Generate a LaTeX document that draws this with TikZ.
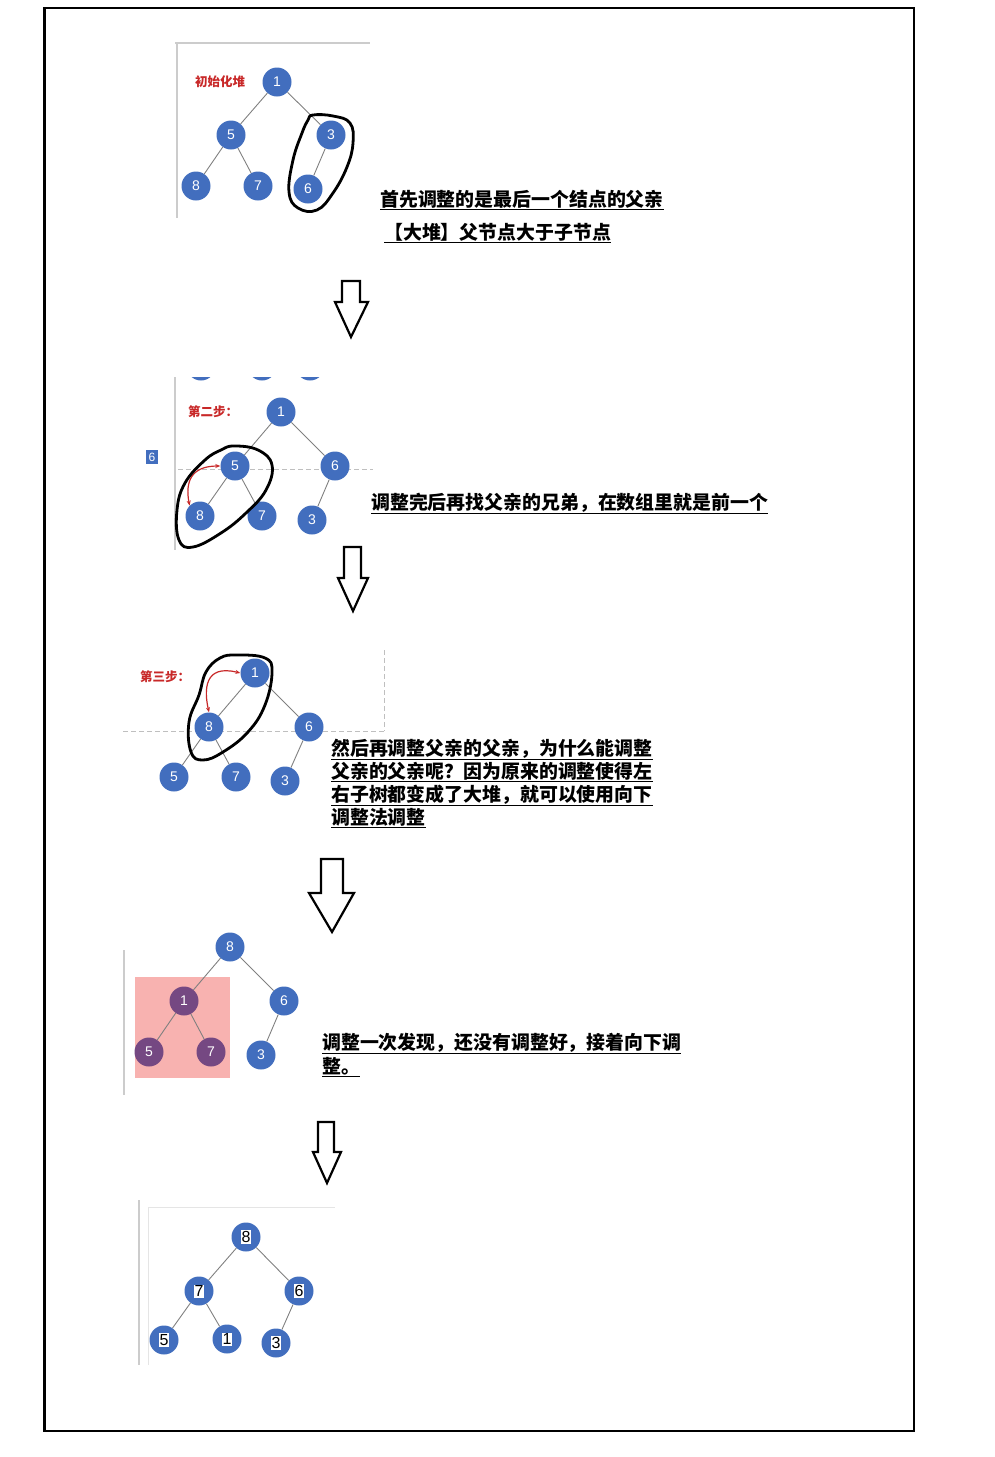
\documentclass[tikz,border=0pt]{standalone}
\usepackage{fontspec}
\setmainfont{Liberation Sans}
\newfontfamily\cjk{Noto Sans CJK SC}
\usetikzlibrary{arrows.meta}
\definecolor{heapblue}{RGB}{66,110,190}
\definecolor{heappurple}{RGB}{117,72,130}
\definecolor{shotpink}{RGB}{248,178,176}
\definecolor{markred}{RGB}{200,40,40}
\tikzset{
  heapnode/.style={circle,fill=heapblue,minimum size=29,inner sep=0,text=white,font=\fontsize{14}{14}\selectfont},
  swapnode/.style={heapnode,fill=heappurple},
  heapedge/.style={draw=gray,line width=0.9},
  note/.style={anchor=base west,inner sep=0,font=\cjk\bfseries\fontsize{18.9}{23}\selectfont},
  steplabel/.style={text=markred,inner sep=0,font=\cjk\bfseries\fontsize{12.5}{13}\selectfont},
  ring/.style={line width=2.8,line cap=round,line join=round},
  swaparrow/.style={draw=markred,line width=1.2,{Stealth[length=5,width=4]}-{Stealth[length=5,width=4]}},
  shotedge/.style={draw=gray!40,line width=1.2},
  shotdash/.style={draw=gray!50,dash pattern=on 5pt off 3pt,line width=1},
  hollowarrow/.style={draw,line width=2.2,fill=white,line join=miter},
  numbox/.style={fill=white,inner sep=1,text=black,font=\fontsize{16}{16}\selectfont}
}

\begin{document}
\begin{tikzpicture}[x=1pt,y=-1pt]
\useasboundingbox (0,0) rectangle (994,1457);
\draw[line width=2.8] (44.5,8) rectangle (914,1431);

\draw[shotedge] (175,43) -- (370,43);
\draw[shotedge] (177,43) -- (177,218);
\node[steplabel] (t1) at (220,82) {初始化堆};
\node[heapnode] (a1) at (277,82) {1};
\node[heapnode] (a5) at (231,135) {5};
\node[heapnode] (a3) at (331,135) {3};
\node[heapnode] (a8) at (196,186) {8};
\node[heapnode] (a7) at (258,186) {7};
\node[heapnode] (a6) at (308,189) {6};
\draw[heapedge] (a1) -- (a5);
\draw[heapedge] (a1) -- (a3);
\draw[heapedge] (a5) -- (a8);
\draw[heapedge] (a5) -- (a7);
\draw[heapedge] (a3) -- (a6);
\draw[ring] plot[smooth cycle,tension=0.7] coordinates {(313,115) (333,116) (350,123) (353,143) (347,167) (333,193) (317,210) (298,208) (289,192) (293,160) (302,133) (308,120)};
\node[note] (n1) at (380,206) {\underline{首先调整的是最后一个结点的父亲}};
\node[note] (n2) at (384,239) {\underline{【大堆】父节点大于子节点}};

\draw[hollowarrow] (342,281) -- (360,281) -- (360,302) -- (368,302) -- (351,337) -- (335,302) -- (342,302) -- cycle;

\begin{scope}
\clip (175,377) rectangle (373,383);
\fill[heapblue] (201,366) circle (14.5);
\fill[heapblue] (262,366) circle (14.5);
\fill[heapblue] (310,366) circle (14.5);
\end{scope}
\draw[shotedge] (175,377) -- (175,550);
\draw[shotdash] (178,469) -- (373,469);
\node[fill=heapblue,text=white,inner sep=0,minimum width=12,minimum height=14,font=\fontsize{12}{12}\selectfont] (s6) at (152,457) {6};
\node[steplabel] (t2) at (213,412) {第二步：};
\node[heapnode] (b1) at (281,412) {1};
\node[heapnode] (b5) at (235,466) {5};
\node[heapnode] (b6) at (335,466) {6};
\node[heapnode] (b8) at (200,516) {8};
\node[heapnode] (b7) at (262,516) {7};
\node[heapnode] (b3) at (312,520) {3};
\draw[heapedge] (b1) -- (b5);
\draw[heapedge] (b1) -- (b6);
\draw[heapedge] (b5) -- (b8);
\draw[heapedge] (b5) -- (b7);
\draw[heapedge] (b6) -- (b3);
\draw[swaparrow] (b8.north west) .. controls (185,482) and (191,466) .. (b5.west);
\draw[ring] plot[smooth cycle,tension=0.7] coordinates {(234,446) (258,450) (272,465) (266,490) (246,513) (221,533) (193,547) (179,540) (177,510) (185,483) (205,460) (221,450)};
\node[note] (n3) at (371,509) {\underline{调整完后再找父亲的兄弟，在数组里就是前一个}};

\draw[hollowarrow] (344,547) -- (361,547) -- (361,578) -- (368,578) -- (353,611) -- (338,578) -- (344,578) -- cycle;

\draw[shotdash] (123,731) -- (385,731);
\draw[shotdash] (384,650) -- (384,731);
\node[steplabel] (t3) at (165,677) {第三步：};
\node[heapnode] (c1) at (255,673) {1};
\node[heapnode] (c8) at (209,727) {8};
\node[heapnode] (c6) at (309,727) {6};
\node[heapnode] (c5) at (174,777) {5};
\node[heapnode] (c7) at (236,777) {7};
\node[heapnode] (c3) at (285,781) {3};
\draw[heapedge] (c1) -- (c8);
\draw[heapedge] (c1) -- (c6);
\draw[heapedge] (c8) -- (c5);
\draw[heapedge] (c8) -- (c7);
\draw[heapedge] (c6) -- (c3);
\draw[swaparrow] (c8.north) .. controls (204,690) and (204,664) .. (c1.west);
\draw[ring] plot[smooth cycle,tension=0.7] coordinates {(237,655) (265,658) (272,672) (265,705) (248,732) (223,752) (203,760) (191,752) (189,722) (199,695) (206,672) (220,658)};
\node[note] (n4) at (331,755) {\underline{然后再调整父亲的父亲，为什么能调整}};
\node[note] (n5) at (331,778) {\underline{父亲的父亲呢？因为原来的调整使得左}};
\node[note] (n6) at (331,801) {\underline{右子树都变成了大堆，就可以使用向下}};
\node[note] (n7) at (331,824) {\underline{调整法调整}};

\draw[hollowarrow] (321,859) -- (343,859) -- (343,893) -- (354,893) -- (332,932) -- (309,893) -- (321,893) -- cycle;

\draw[shotedge] (124,950) -- (124,1095);
\fill[shotpink] (134.5,977) rectangle (229.5,1078);
\node[heapnode] (d8) at (230,947) {8};
\node[swapnode] (d1) at (184,1001) {1};
\node[heapnode] (d6) at (284,1001) {6};
\node[swapnode] (d5) at (149,1052) {5};
\node[swapnode] (d7) at (211,1052) {7};
\node[heapnode] (d3) at (261,1055) {3};
\draw[heapedge] (d8) -- (d1);
\draw[heapedge] (d8) -- (d6);
\draw[heapedge] (d1) -- (d5);
\draw[heapedge] (d1) -- (d7);
\draw[heapedge] (d6) -- (d3);
\node[note] (n8) at (322,1049) {\underline{调整一次发现，还没有调整好，接着向下调}};
\node[note] (n9) at (322,1073) {\underline{整。}};

\draw[hollowarrow] (318,1122) -- (334,1122) -- (334,1152) -- (341,1152) -- (327,1183) -- (313,1152) -- (318,1152) -- cycle;

\draw[shotedge] (139,1200) -- (139,1365);
\draw[draw=gray!20,line width=1] (148,1207) -- (148,1365);
\draw[draw=gray!20,line width=1] (148,1207) -- (335,1207);
\node[heapnode,label={[numbox]center:8}] (e8) at (246,1237) {};
\node[heapnode,label={[numbox]center:7}] (e7) at (199,1291) {};
\node[heapnode,label={[numbox]center:6}] (e6) at (299,1291) {};
\node[heapnode,label={[numbox]center:5}] (e5) at (164,1340) {};
\node[heapnode,label={[numbox]center:1}] (e1) at (227,1339) {};
\node[heapnode,label={[numbox]center:3}] (e3) at (276,1343) {};
\draw[heapedge] (e8) -- (e7);
\draw[heapedge] (e8) -- (e6);
\draw[heapedge] (e7) -- (e5);
\draw[heapedge] (e7) -- (e1);
\draw[heapedge] (e6) -- (e3);
\end{tikzpicture}
\end{document}
